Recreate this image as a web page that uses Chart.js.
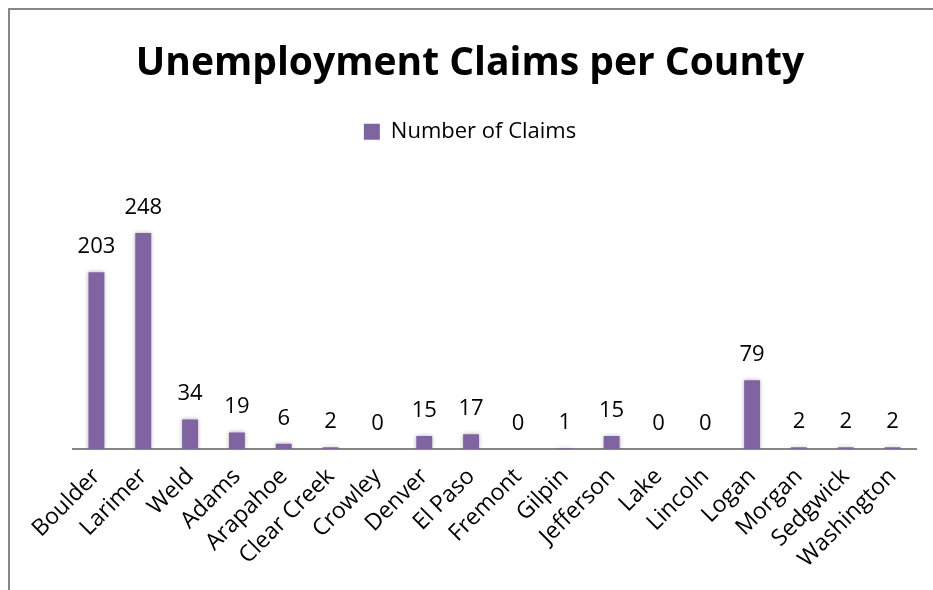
<!DOCTYPE html>
<html lang="en">
<head>
  <meta charset="UTF-8">
  <title>Unemployment Claims per County</title>
  <script src="https://cdn.jsdelivr.net/npm/chart.js"></script>
  <style>
    body {
      margin: 0; padding: 0;
      background: #fff;
      overflow: hidden;
    }
    #frame {
      position: absolute;
      left: 8px; top: 8px;
      width: 960px; height: 620px;
      border: 2px solid #878787;
      box-sizing: border-box;
    }
    #wrap {
      position: absolute;
      left: 0; top: 0;
      width: 923px; height: 580px;
    }
  </style>
</head>
<body>
  <div id="frame">
    <div id="wrap"><canvas id="chart"></canvas></div>
  </div>

  <script>
    const counties = ['Boulder', 'Larimer', 'Weld', 'Adams', 'Arapahoe', 'Clear Creek', 'Crowley',
      'Denver', 'El Paso', 'Fremont', 'Gilpin', 'Jefferson', 'Lake', 'Lincoln', 'Logan',
      'Morgan', 'Sedgwick', 'Washington'];
    const claims = [203, 248, 34, 19, 6, 2, 0, 15, 17, 0, 1, 15, 0, 0, 79, 2, 2, 2];

    const FONT = "'Open Sans', sans-serif";

    // value labels above each bar
    const barLabels = {
      id: 'barLabels',
      afterDatasetsDraw(chart) {
        const ctx = chart.ctx;
        const meta = chart.getDatasetMeta(0);
        ctx.save();
        ctx.font = '22px ' + FONT;
        ctx.fillStyle = '#000';
        ctx.textAlign = 'center';
        ctx.textBaseline = 'alphabetic';
        meta.data.forEach((bar, i) => {
          ctx.fillText(String(claims[i]), bar.x, bar.y - 19);
        });
        ctx.restore();
      }
    };

    // soft shadow round the bars
    const barShadow = {
      id: 'barShadow',
      beforeDatasetDraw(chart) {
        const ctx = chart.ctx;
        ctx.save();
        ctx.shadowColor = 'rgba(0,0,0,0.3)';
        ctx.shadowBlur = 4;
      },
      afterDatasetDraw(chart) {
        chart.ctx.restore();
      }
    };

    new Chart(document.getElementById('chart'), {
      type: 'bar',
      data: {
        labels: counties,
        datasets: [{
          label: 'Number of Claims',
          data: claims,
          backgroundColor: '#8064A2',
          borderWidth: 0,
          barPercentage: 0.68,
          categoryPercentage: 0.5
        }]
      },
      options: {
        responsive: true,
        maintainAspectRatio: false,
        animation: false,
        layout: { padding: { left: 0, right: 3, top: 8, bottom: 0 } },
        scales: {
          x: {
            grid: { display: false, drawTicks: false },
            border: { color: '#868686', width: 2 },
            ticks: {
              color: '#000',
              font: { family: FONT, size: 23 },
              minRotation: 45, maxRotation: 45,
              autoSkip: false,
              padding: 14
            },
            afterFit(scale) {
              scale.height = 141;
              scale.paddingLeft = 63;
              scale.paddingRight = 17;
            }
          },
          y: {
            display: false,
            min: 0, max: 340
          }
        },
        plugins: {
          title: {
            display: true,
            text: 'Unemployment Claims per County',
            color: '#000',
            font: { family: FONT, size: 39, weight: 'bold' },
            padding: { top: 22, bottom: 24 }
          },
          legend: {
            display: true,
            labels: {
              color: '#000',
              font: { family: FONT, size: 22 },
              boxWidth: 16, boxHeight: 16,
              padding: 10
            }
          },
          tooltip: { enabled: false }
        }
      },
      plugins: [barShadow, barLabels]
    });
  </script>
</body>
</html>
